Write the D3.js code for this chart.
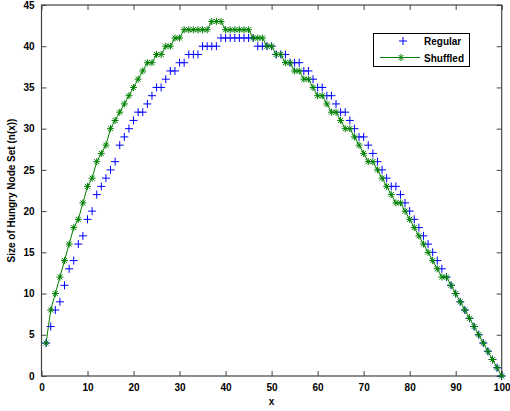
<!DOCTYPE html>
<html>
<head>
<meta charset="utf-8">
<script src="https://cdn.jsdelivr.net/npm/d3@7"></script>
<style>
  body { margin: 0; background: #fff; }
  text { font-family: Arial, "Liberation Sans", sans-serif; font-weight: bold; font-size: 10px; }
</style>
</head>
<body>
<div id="chart"></div>
<script>
var width = 510,
    height = 411

// node index along x
var xVals = d3.range(1, 101)

// size of hungry node set
var regular = [
  4, 6, 8, 9, 11, 13, 14, 16, 17, 19,
  20, 22, 23, 24, 25, 26, 28, 29, 30, 31,
  32, 32, 33, 34, 35, 35, 36, 37, 37, 38,
  38, 39, 39, 39, 40, 40, 40, 40, 41, 41,
  41, 41, 41, 41, 41, 41, 40, 40, 40, 40,
  39, 39, 39, 38, 38, 38, 37, 37, 36, 35,
  35, 34, 34, 33, 32, 32, 31, 30, 29, 29,
  28, 27, 26, 25, 24, 23, 23, 22, 21, 20,
  19, 18, 17, 16, 15, 14, 13, 12, 11, 10,
  9, 8, 7, 6, 5, 4, 3, 2, 1, 0
]
var shuffled = [
  4, 8, 10, 12, 14, 16, 18, 19, 21, 23,
  24, 26, 27, 28, 30, 31, 32, 33, 34, 35,
  36, 37, 38, 38, 39, 39, 40, 40, 41, 41,
  42, 42, 42, 42, 42, 42, 43, 43, 43, 42,
  42, 42, 42, 42, 42, 41, 41, 41, 40, 40,
  39, 39, 38, 38, 37, 37, 36, 36, 35, 34,
  34, 33, 32, 32, 31, 30, 30, 29, 28, 27,
  26, 26, 25, 24, 23, 22, 21, 21, 20, 19,
  18, 17, 16, 15, 14, 13, 12, 12, 11, 10,
  9, 8, 7, 6, 5, 4, 3, 2, 1, 0
]

var xTicks = [0, 10, 20, 30, 40, 50, 60, 70, 80, 90, 100]
var yTicks = [0, 5, 10, 15, 20, 25, 30, 35, 40, 45]
var legendNames = ['Regular', 'Shuffled']

// plot box (window.top is reserved, so use a prefix)
var pLeft = 41.5, pRight = 501.7, pTop = 5, pBottom = 376

var x = d3.scaleLinear().domain([0, 100]).range([pLeft, pRight])
var y = d3.scaleLinear().domain([0, 45]).range([pBottom, pTop])

var svg = d3.select('#chart').append('svg')
    .attr('width', width)
    .attr('height', height)

svg.append('rect')
   .attr('width', width).attr('height', height)
   .attr('fill', '#fff')

var plusPath = 'M-4,0H4M0,-4V4'
var starPath = 'M-3.5,0H3.5M0,-3.5V3.5M-2.5,-2.5L2.5,2.5M-2.5,2.5L2.5,-2.5'

// axes, ticks pointing inward like matlab
var axisColor = '#444'
function styleAxis(g) {
  g.select('.domain').remove()
  g.selectAll('.tick line').attr('stroke', axisColor)
  g.selectAll('.tick text').attr('fill', '#000').style('font-size', '10px')
}

svg.append('g')
   .attr('transform', 'translate(0,' + pBottom + ')')
   .call(d3.axisBottom(x).tickValues(xTicks).tickSize(-5).tickPadding(8))
   .call(styleAxis)
svg.append('g')
   .attr('transform', 'translate(0,' + pTop + ')')
   .call(d3.axisTop(x).tickValues(xTicks).tickSize(-5).tickFormat(''))
   .call(styleAxis)
svg.append('g')
   .attr('transform', 'translate(' + pLeft + ',0)')
   .call(d3.axisLeft(y).tickValues(yTicks).tickSize(-5).tickPadding(7))
   .call(styleAxis)
svg.append('g')
   .attr('transform', 'translate(' + pRight + ',0)')
   .call(d3.axisRight(y).tickValues(yTicks).tickSize(-5).tickFormat(''))
   .call(styleAxis)

svg.append('rect')
   .attr('x', pLeft).attr('y', pTop)
   .attr('width', pRight - pLeft).attr('height', pBottom - pTop)
   .attr('fill', 'none')
   .attr('stroke', axisColor)
   .attr('stroke-width', 1.2)

// shuffled: line + star markers
var line = d3.line()
  .x(function (d, i) { return x(xVals[i]) })
  .y(function (d) { return y(d) })

svg.append('path')
   .datum(shuffled)
   .attr('d', line)
   .attr('fill', 'none')
   .attr('stroke', '#008000')
   .attr('stroke-width', 1)

// regular: plus markers only
svg.append('g').selectAll('path')
   .data(regular)
   .enter().append('path')
   .attr('d', plusPath)
   .attr('transform', function (d, i) { return 'translate(' + x(xVals[i]) + ',' + y(d) + ')' })
   .attr('fill', 'none')
   .attr('stroke', '#0000ff')
   .attr('stroke-width', 1)

svg.append('g').selectAll('path')
   .data(shuffled)
   .enter().append('path')
   .attr('d', starPath)
   .attr('transform', function (d, i) { return 'translate(' + x(xVals[i]) + ',' + y(d) + ')' })
   .attr('fill', 'none')
   .attr('stroke', '#008000')
   .attr('stroke-width', 1)

// axis labels
svg.append('text')
   .attr('x', (pLeft + pRight) / 2)
   .attr('y', 405)
   .attr('text-anchor', 'middle')
   .text('x')

svg.append('text')
   .attr('transform', 'translate(15,' + ((pTop + pBottom) / 2) + ') rotate(-90)')
   .attr('text-anchor', 'middle')
   .text('Size of Hungry Node Set (n(x))')

// legend
var legend = svg.append('g')
legend.append('rect')
   .attr('x', 373.5).attr('y', 33.5)
   .attr('width', 96).attr('height', 33)
   .attr('fill', '#fff')
   .attr('stroke', '#000')
   .attr('stroke-width', 1)

legend.append('path')
   .attr('d', plusPath)
   .attr('transform', 'translate(403,41)')
   .attr('fill', 'none').attr('stroke', '#0000ff')
legend.append('line')
   .attr('x1', 380).attr('x2', 420)
   .attr('y1', 57.5).attr('y2', 57.5)
   .attr('stroke', '#008000')
legend.append('path')
   .attr('d', starPath)
   .attr('transform', 'translate(401,57.5)')
   .attr('fill', 'none').attr('stroke', '#008000')

legend.selectAll('text.lg')
   .data(legendNames)
   .enter().append('text')
   .attr('class', 'lg')
   .attr('x', 424)
   .attr('y', function (d, i) { return 45 + i * 16.5 })
   .text(function (d) { return d })
</script>
</body>
</html>
